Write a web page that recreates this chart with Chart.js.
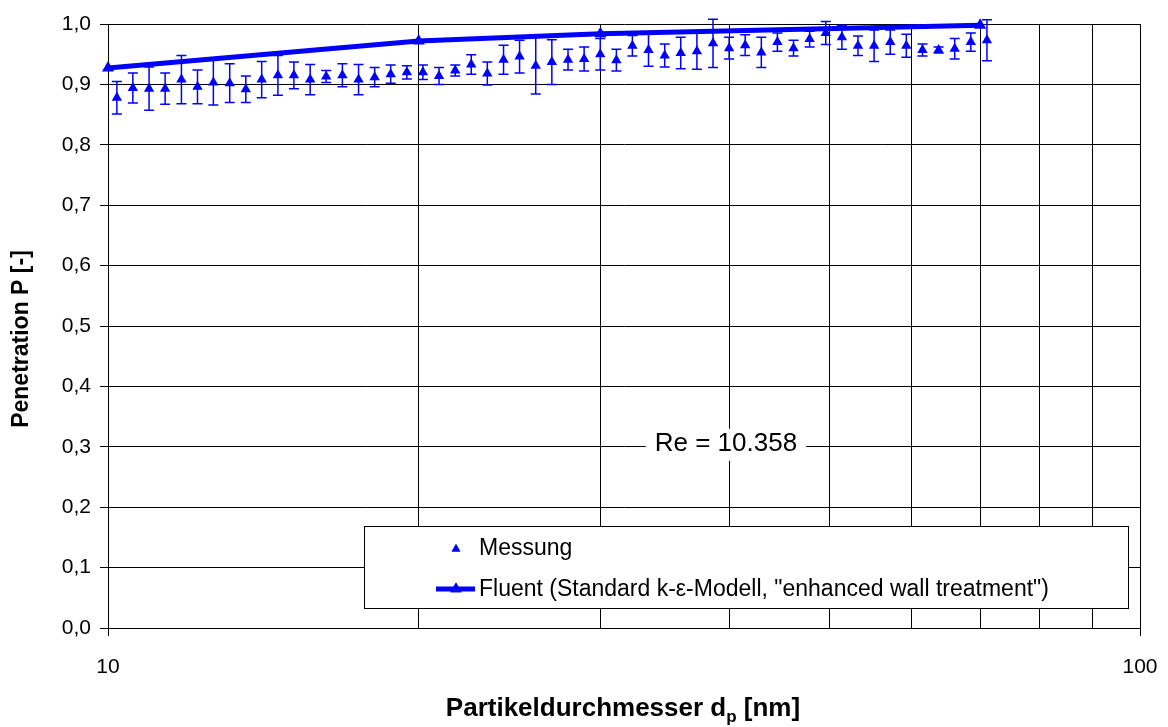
<!DOCTYPE html>
<html lang="de">
<head>
    <meta charset="UTF-8">
    <title>Penetration</title>
    <style>
        html, body { margin: 0; padding: 0; background: #fff; }
        #grafik { display: block; }
    </style>
    <script src="https://cdn.jsdelivr.net/npm/chart.js"></script>
</head>
<body>
    <canvas id="grafik" width="1168" height="727"></canvas>

    <script>
        // Messdaten (Partikeldurchmesser in nm)
        const durchmesser = [10.2, 10.57, 10.96, 11.36, 11.78, 12.21, 12.65, 13.12, 13.6, 14.09,
            14.61, 15.14, 15.7, 16.27, 16.87, 17.49, 18.13, 18.79, 19.48, 20.19,
            20.93, 21.7, 22.49, 23.31, 24.17, 25.05, 25.97, 26.92, 27.91, 28.93,
            29.99, 31.09, 32.22, 33.4, 34.63, 35.89, 37.21, 38.57, 39.98, 41.44,
            42.96, 44.53, 46.16, 47.85, 49.6, 51.42, 53.3, 55.25, 57.28, 59.37,
            61.55, 63.8, 66.14, 68.56, 71.07];
        const messung = [0.878, 0.894, 0.893, 0.893, 0.908, 0.896, 0.903, 0.902, 0.892, 0.908,
            0.915, 0.915, 0.908, 0.913, 0.915, 0.908, 0.912, 0.917, 0.920, 0.920,
            0.914, 0.923, 0.933, 0.918, 0.941, 0.946, 0.931, 0.937, 0.941, 0.942,
            0.950, 0.940, 0.964, 0.957, 0.948, 0.952, 0.955, 0.968, 0.960, 0.965,
            0.953, 0.970, 0.960, 0.975, 0.985, 0.978, 0.964, 0.964, 0.970, 0.964,
            0.957, 0.957, 0.959, 0.970, 0.973];
        // Fehlerbalken (+/-)
        const fehler = [0.027, 0.025, 0.036, 0.026, 0.040, 0.028, 0.037, 0.032, 0.022, 0.030,
            0.033, 0.022, 0.025, 0.010, 0.019, 0.025, 0.016, 0.015, 0.011, 0.012,
            0.014, 0.009, 0.016, 0.019, 0.024, 0.027, 0.047, 0.037, 0.017, 0.020,
            0.026, 0.018, 0.017, 0.027, 0.019, 0.026, 0.030, 0.040, 0.018, 0.017,
            0.025, 0.015, 0.013, 0.013, 0.019, 0.020, 0.016, 0.026, 0.020, 0.019,
            0.010, 0.005, 0.017, 0.015, 0.034];

        // Simulation (Fluent)
        const fluentDurchmesser = [10, 20, 30, 70];
        const fluentP = [0.927, 0.972, 0.984, 0.998];

        // Achsen
        const xTicks = [10, 20, 30, 40, 50, 60, 70, 80, 90, 100];
        const xBeschriftet = [10, 100];
        const yTicks = [0, 0.1, 0.2, 0.3, 0.4, 0.5, 0.6, 0.7, 0.8, 0.9, 1.0];

        const reText = 'Re = 10.358';
        const yTitel = 'Penetration P [-]';
        const legendeTexte = ['Messung', 'Fluent (Standard k-\u03b5-Modell, "enhanced wall treatment")'];

        const BLAU = '#0000ff';
        const SCHRIFT = '"Liberation Sans", Arial, sans-serif';

        // Fehlerbalken unter den Markern zeichnen
        const fehlerbalken = {
            id: 'fehlerbalken',
            beforeDatasetsDraw(chart) {
                const { ctx, scales: { x, y } } = chart;
                ctx.save();
                ctx.strokeStyle = BLAU;
                ctx.lineWidth = 1.5;
                for (let i = 0; i < durchmesser.length; i++) {
                    const px = x.getPixelForValue(durchmesser[i]);
                    const oben = y.getPixelForValue(messung[i] + fehler[i]);
                    const unten = y.getPixelForValue(messung[i] - fehler[i]);
                    ctx.beginPath();
                    ctx.moveTo(px, oben); ctx.lineTo(px, unten);
                    ctx.moveTo(px - 5, oben); ctx.lineTo(px + 5, oben);
                    ctx.moveTo(px - 5, unten); ctx.lineTo(px + 5, unten);
                    ctx.stroke();
                }
                ctx.restore();
            }
        };

        // Re-Beschriftung, Legende und Achsentitel
        const extras = {
            id: 'extras',
            afterDraw(chart) {
                const { ctx, scales: { x, y } } = chart;
                ctx.save();

                // Re-Box
                ctx.font = '26px ' + SCHRIFT;
                const rx = x.getPixelForValue(39.7);
                const ry = y.getPixelForValue(0.3) - 3;
                const rw = ctx.measureText(reText).width;
                ctx.fillStyle = '#fff';
                ctx.fillRect(rx - rw / 2 - 9, ry - 15, rw + 18, 32);
                ctx.fillStyle = '#000';
                ctx.textAlign = 'center';
                ctx.textBaseline = 'middle';
                ctx.fillText(reText, rx, ry);

                // Legende
                ctx.fillStyle = '#fff';
                ctx.fillRect(364, 526, 764, 82);
                ctx.strokeStyle = '#000';
                ctx.lineWidth = 1;
                ctx.strokeRect(364.5, 526.5, 764, 82);

                ctx.fillStyle = BLAU;
                Chart.helpers.drawPoint(ctx, { pointStyle: 'triangle', radius: 5, rotation: 0, borderWidth: 0 }, 456, 549);
                ctx.fill();

                ctx.strokeStyle = BLAU;
                ctx.lineWidth = 5;
                ctx.beginPath();
                ctx.moveTo(436, 589); ctx.lineTo(475, 589);
                ctx.stroke();
                ctx.fillStyle = BLAU;
                Chart.helpers.drawPoint(ctx, { pointStyle: 'triangle', radius: 6.5, rotation: 0, borderWidth: 0 }, 456, 589);
                ctx.fill();

                ctx.fillStyle = '#000';
                ctx.font = '23px ' + SCHRIFT;
                ctx.textAlign = 'left';
                ctx.textBaseline = 'middle';
                ctx.fillText(legendeTexte[0], 479, 549);
                ctx.fillText(legendeTexte[1], 479, 590);

                // y-Achsentitel
                ctx.save();
                ctx.translate(22, 339);
                ctx.rotate(-Math.PI / 2);
                ctx.font = 'bold 23px ' + SCHRIFT;
                ctx.textAlign = 'center';
                ctx.fillText(yTitel, 0, 0);
                ctx.restore();

                // x-Achsentitel: Partikeldurchmesser d_p [nm]
                const teil1 = 'Partikeldurchmesser d';
                const teil2 = 'p';
                const teil3 = ' [nm]';
                ctx.font = 'bold 26px ' + SCHRIFT;
                const w1 = ctx.measureText(teil1).width;
                const w3 = ctx.measureText(teil3).width;
                ctx.font = 'bold 17px ' + SCHRIFT;
                const w2 = ctx.measureText(teil2).width;
                const gesamt = w1 + w2 + w3;
                let sx = 623 - gesamt / 2;
                const sy = 709;
                ctx.textAlign = 'left';
                ctx.textBaseline = 'middle';
                ctx.font = 'bold 26px ' + SCHRIFT;
                ctx.fillText(teil1, sx, sy);
                sx += w1;
                ctx.font = 'bold 17px ' + SCHRIFT;
                ctx.fillText(teil2, sx, sy + 8);
                sx += w2;
                ctx.font = 'bold 26px ' + SCHRIFT;
                ctx.fillText(teil3, sx, sy);

                ctx.restore();
            }
        };

        const ctx = document.getElementById('grafik').getContext('2d');
        const grafik = new Chart(ctx, {
            type: 'scatter',
            data: {
                datasets: [
                    {
                        label: legendeTexte[0],
                        data: durchmesser.map((d, i) => ({ x: d, y: messung[i] })),
                        pointStyle: 'triangle',
                        pointRadius: 6,
                        backgroundColor: BLAU,
                        borderColor: BLAU,
                        borderWidth: 0,
                        showLine: false,
                        order: 2
                    },
                    {
                        label: legendeTexte[1],
                        data: fluentDurchmesser.map((d, i) => ({ x: d, y: fluentP[i] })),
                        pointStyle: 'triangle',
                        pointRadius: 7,
                        backgroundColor: BLAU,
                        borderColor: BLAU,
                        pointBorderWidth: 0,
                        borderWidth: 5,
                        showLine: true,
                        tension: 0,
                        clip: false,
                        order: 1
                    }
                ]
            },
            options: {
                responsive: false,
                animation: false,
                events: [],
                layout: { padding: { top: 24, right: 28, left: 0, bottom: 0 } },
                plugins: {
                    legend: { display: false },
                    tooltip: { enabled: false }
                },
                scales: {
                    x: {
                        type: 'logarithmic',
                        min: 10,
                        max: 100,
                        afterFit: (s) => { s.height = 99; s.paddingLeft = 0; s.paddingRight = 0; },
                        afterBuildTicks: (s) => { s.ticks = xTicks.map(v => ({ value: v })); },
                        ticks: {
                            autoSkip: false,
                            maxRotation: 0,
                            padding: 19,
                            color: '#000',
                            font: { family: SCHRIFT, size: 21 },
                            callback: (v) => xBeschriftet.includes(v) ? String(v) : ''
                        },
                        grid: {
                            color: '#000',
                            lineWidth: 1,
                            tickLength: 8,
                            tickColor: (c) => (c.tick && xBeschriftet.includes(c.tick.value)) ? '#000' : 'rgba(0,0,0,0)'
                        },
                        border: { color: '#000', width: 1 },
                        title: { display: false }
                    },
                    y: {
                        min: 0,
                        max: 1,
                        afterFit: (s) => { s.width = 108; s.paddingTop = 0; s.paddingBottom = 0; },
                        afterBuildTicks: (s) => { s.ticks = yTicks.map(v => ({ value: v })); },
                        ticks: {
                            padding: 9,
                            color: '#000',
                            font: { family: SCHRIFT, size: 21 },
                            callback: (v) => v.toFixed(1).replace('.', ',')
                        },
                        grid: {
                            color: '#000',
                            lineWidth: 1,
                            tickLength: 8,
                            tickColor: '#000'
                        },
                        border: { color: '#000', width: 1 },
                        title: { display: false }
                    }
                }
            },
            plugins: [fehlerbalken, extras]
        });
    </script>
</body>
</html>
